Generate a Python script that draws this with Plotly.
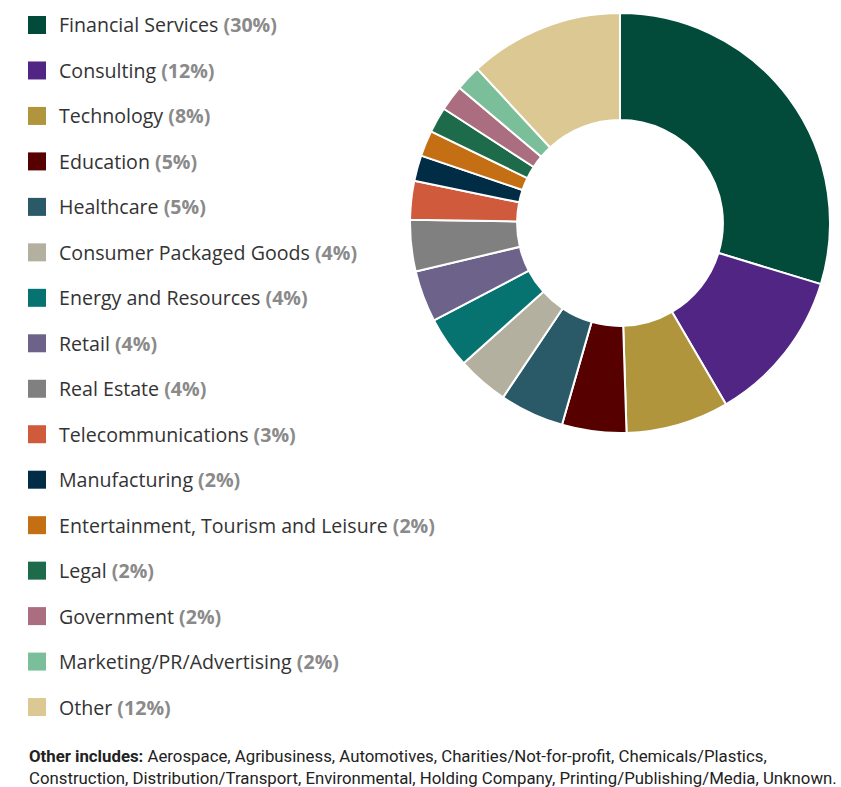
import plotly.graph_objects as go

categories = [
    "Financial Services", "Consulting", "Technology", "Education", "Healthcare",
    "Consumer Packaged Goods", "Energy and Resources", "Retail", "Real Estate",
    "Telecommunications", "Manufacturing", "Entertainment, Tourism and Leisure",
    "Legal", "Government", "Marketing/PR/Advertising", "Other",
]
values = [30, 12, 8, 5, 5, 4, 4, 4, 4, 3, 2, 2, 2, 2, 2, 12]
colors = [
    "#024B3B", "#512584", "#B0953C", "#560000", "#2A5968", "#B3B09F",
    "#077370", "#6D638A", "#808080", "#CF5A3C", "#002C46", "#C56F14",
    "#1D6B4A", "#AB6E80", "#7BBF9A", "#DCC892",
]
footnote_bold = "Other includes:"
footnote_text = ("Aerospace, Agribusiness, Automotives, Charities/Not-for-profit, Chemicals/Plastics,<br>"
                 "Construction, Distribution/Transport, Environmental, Holding Company, Printing/Publishing/Media, Unknown.")

W, H = 841, 787

def px(x):
    return x / W

def py(y):
    return 1 - y / H

fig = go.Figure()
fig.add_trace(go.Pie(
    labels=categories, values=values, hole=0.49, sort=False,
    direction="clockwise", rotation=0,
    marker=dict(colors=colors, line=dict(color="white", width=2)),
    textinfo="none", hoverinfo="label+percent", showlegend=False,
    domain=dict(x=[px(410), px(830)], y=[py(433), py(13)]),
))

shapes = []
annotations = []
for i, (cat, val, col) in enumerate(zip(categories, values, colors)):
    yc = 25 + i * 45.47
    shapes.append(dict(type="rect", xref="paper", yref="paper",
                       x0=px(28), x1=px(46), y0=py(yc + 9), y1=py(yc - 9),
                       fillcolor=col, line=dict(width=0)))
    annotations.append(dict(
        xref="paper", yref="paper", x=px(57), y=py(yc), xanchor="left", yanchor="middle",
        text=f"{cat} <b><span style='color:#8a8a8a'>({val}%)</span></b>",
        showarrow=False, font=dict(family="Open Sans", size=19.6, color="#333333"),
    ))

annotations.append(dict(
    xref="paper", yref="paper", x=px(27), y=py(767), xanchor="left", yanchor="middle",
    text=f"<b>{footnote_bold}</b> {footnote_text}", align="left",
    showarrow=False, font=dict(family="Roboto", size=16.8, color="#222222"),
))

fig.update_layout(
    width=W, height=H, margin=dict(l=0, r=0, t=0, b=0),
    paper_bgcolor="white", plot_bgcolor="white",
    shapes=shapes, annotations=annotations,
)
fig.write_html("out.html")
